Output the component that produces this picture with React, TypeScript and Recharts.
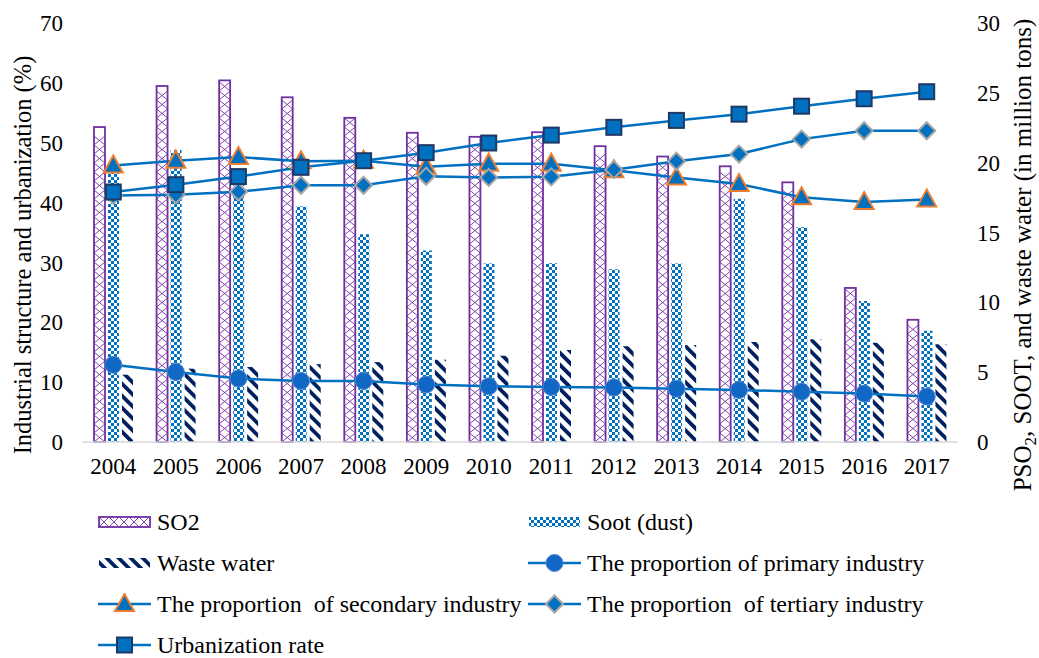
import React from 'react';
import {
  ComposedChart, Bar, Line, XAxis, YAxis,
} from 'recharts';

const years = ['2004', '2005', '2006', '2007', '2008', '2009', '2010', '2011', '2012', '2013', '2014', '2015', '2016', '2017'];

// pollutants, right axis (million tons)
const so2 = [22.55, 25.49, 25.89, 24.68, 23.21, 22.14, 21.85, 22.18, 21.18, 20.44, 19.74, 18.59, 11.03, 8.75];
const soot = [20.0, 20.9, 18.97, 16.86, 14.87, 13.71, 12.78, 12.79, 12.36, 12.78, 17.41, 15.38, 10.1, 7.96];
const wasteWater = [4.82, 5.25, 5.37, 5.57, 5.72, 5.89, 6.17, 6.59, 6.85, 6.95, 7.16, 7.35, 7.11, 7.0];

// industrial structure + urbanization, left axis (%)
const primary = [12.9, 11.7, 10.6, 10.2, 10.2, 9.6, 9.3, 9.2, 9.1, 8.9, 8.7, 8.4, 8.1, 7.6];
const secondary = [46.2, 47.0, 47.6, 46.9, 47.0, 46.0, 46.5, 46.5, 45.4, 44.2, 43.1, 40.9, 40.1, 40.5];
const tertiary = [41.2, 41.3, 41.8, 42.9, 42.9, 44.4, 44.2, 44.3, 45.5, 46.9, 48.1, 50.6, 52.0, 52.0];
const urbanization = [41.76, 42.99, 44.34, 45.89, 46.99, 48.34, 49.95, 51.27, 52.57, 53.73, 54.77, 56.1, 57.35, 58.52];

const leftTicks = [0, 10, 20, 30, 40, 50, 60, 70];
const rightTicks = [0, 5, 10, 15, 20, 25, 30];

const data = years.map((year, i) => ({
  year,
  so2: so2[i],
  soot: soot[i],
  waste: wasteWater[i],
  primary: primary[i],
  secondary: secondary[i],
  tertiary: tertiary[i],
  urban: urbanization[i],
}));

const FONT = 'Liberation Serif, Times New Roman, Tinos, DejaVu Serif, serif';
const BLUE = '#0070C0';
const PURPLE = '#7030A0';
const NAVY = '#002060';

// SO2 bars: white box, purple border, stacked X's inside
function So2Shape(props: any) {
  const { x, y, width, height } = props;
  if (!height || height <= 0) return <g />;
  const step = 9;
  let d = '';
  for (let yy = y + height; yy - step >= y - 0.01; yy -= step) {
    d += `M${x},${yy}L${x + width},${yy - step}M${x + width},${yy}L${x},${yy - step}`;
  }
  return (
    <g>
      <rect x={x} y={y} width={width} height={height} fill="#fff" />
      <path d={d} stroke={PURPLE} strokeWidth={0.9} fill="none" />
      <rect x={x} y={y} width={width} height={height} fill="none" stroke={PURPLE} strokeWidth={1.8} />
    </g>
  );
}

// markers
const dotCircle = (p: any) => (
  <circle key={`c${p.index}`} cx={p.cx} cy={p.cy} r={8.5} fill="#1068C4" stroke="#4F86D2" strokeWidth={1} />
);
const dotTriangle = (p: any) => (
  <polygon
    key={`t${p.index}`}
    points={`${p.cx},${p.cy - 10} ${p.cx + 9.5},${p.cy + 7} ${p.cx - 9.5},${p.cy + 7}`}
    fill={BLUE} stroke="#ED7D31" strokeWidth={2}
  />
);
const dotDiamond = (p: any) => (
  <polygon
    key={`d${p.index}`}
    points={`${p.cx},${p.cy - 8.5} ${p.cx + 8.5},${p.cy} ${p.cx},${p.cy + 8.5} ${p.cx - 8.5},${p.cy}`}
    fill={BLUE} stroke="#A5A5A5" strokeWidth={2}
  />
);
const dotSquare = (p: any) => (
  <rect key={`s${p.index}`} x={p.cx - 7.5} y={p.cy - 7.5} width={15} height={15} fill={BLUE} stroke="#1F3864" strokeWidth={2} />
);

const legendItems = [
  { name: 'SO2', kind: 'so2', col: 0, row: 0 },
  { name: 'Soot (dust)', kind: 'soot', col: 1, row: 0 },
  { name: 'Waste water', kind: 'waste', col: 0, row: 1 },
  { name: 'The proportion of primary industry', kind: 'circle', col: 1, row: 1 },
  { name: 'The proportion  of secondary industry', kind: 'triangle', col: 0, row: 2 },
  { name: 'The proportion  of tertiary industry', kind: 'diamond', col: 1, row: 2 },
  { name: 'Urbanization rate', kind: 'square', col: 0, row: 3 },
];

function LegendIcon({ kind }: { kind: string }) {
  const w = 53;
  const h = 22;
  const mid = h / 2;
  if (kind === 'so2') {
    let d = '';
    for (let x = 1; x + 10 <= w; x += 10) d += `M${x},${mid - 5}L${x + 10},${mid + 5}M${x + 10},${mid - 5}L${x},${mid + 5}`;
    return (
      <svg width={w} height={h}>
        <path d={d} stroke={PURPLE} strokeWidth={0.9} />
        <rect x={1} y={mid - 5} width={w - 2} height={10} fill="none" stroke={PURPLE} strokeWidth={1.8} />
      </svg>
    );
  }
  if (kind === 'soot' || kind === 'waste') {
    return (
      <svg width={w} height={h}>
        <rect x={1} y={mid - 5} width={w - 2} height={10} fill={kind === 'soot' ? 'url(#sootPat)' : 'url(#wastePat)'} />
      </svg>
    );
  }
  const marker = { cx: w / 2, cy: mid, index: 0 };
  return (
    <svg width={w} height={h}>
      <line x1={0} y1={mid} x2={w} y2={mid} stroke={BLUE} strokeWidth={2.5} />
      {kind === 'circle' && dotCircle(marker)}
      {kind === 'triangle' && dotTriangle(marker)}
      {kind === 'diamond' && dotDiamond(marker)}
      {kind === 'square' && dotSquare(marker)}
    </svg>
  );
}

function ChartLegend() {
  return (
    <>
      {legendItems.map((it) => (
        <div
          key={it.name}
          style={{
            position: 'absolute',
            left: it.col === 0 ? 98 : 528,
            top: 522 + it.row * 41 - 12,
            height: 24,
            display: 'flex',
            alignItems: 'center',
            whiteSpace: 'pre',
            fontSize: 24,
            lineHeight: '24px',
            color: '#000',
          }}
        >
          <LegendIcon kind={it.kind} />
          <span style={{ marginLeft: 6 }}>{it.name}</span>
        </div>
      ))}
    </>
  );
}

export default function App() {
  return (
    <div style={{ position: 'fixed', left: 0, top: 0, width: 1039, height: 658, overflow: 'hidden', fontFamily: FONT, background: '#fff' }}>
      <ComposedChart
        width={1039}
        height={658}
        data={data}
        margin={{ top: 23, right: 0, left: 0, bottom: 176 }}
        barSize={11}
        barGap={3}
      >
        <defs>
          <pattern id="sootPat" patternUnits="userSpaceOnUse" width="6" height="6">
            <rect width="6" height="6" fill="#fff" />
            <rect x="0" y="0" width="3" height="3" fill={BLUE} />
            <rect x="3" y="3" width="3" height="3" fill={BLUE} />
          </pattern>
          <pattern id="wastePat" patternUnits="userSpaceOnUse" width="8.5" height="8.5" patternTransform="rotate(-45)">
            <rect width="8.5" height="8.5" fill="#fff" />
            <rect x="0" y="0" width="3.8" height="8.5" fill={NAVY} />
          </pattern>
        </defs>

        <XAxis
          dataKey="year"
          height={40}
          interval={0}
          tickLine={false}
          tickSize={0}
          tickMargin={16}
          axisLine={{ stroke: '#D9D9D9', strokeWidth: 1.5 }}
          tick={{ fill: '#000', fontSize: 23, fontFamily: FONT }}
        />
        <YAxis
          yAxisId="left"
          orientation="left"
          width={82}
          domain={[0, 70]}
          ticks={leftTicks}
          axisLine={false}
          tickLine={false}
          tickSize={0}
          tickMargin={19}
          tick={{ fill: '#000', fontSize: 23, fontFamily: FONT }}
          label={() => (
            <text transform="translate(31,255) rotate(-90)" textAnchor="middle" fontSize={24.5} fontFamily={FONT} fill="#000">
              Industrial structure and urbanization (%)
            </text>
          )}
        />
        <YAxis
          yAxisId="right"
          orientation="right"
          width={81}
          domain={[0, 30]}
          ticks={rightTicks}
          axisLine={false}
          tickLine={false}
          tickSize={0}
          tickMargin={19}
          tick={{ fill: '#000', fontSize: 23, fontFamily: FONT }}
          label={() => (
            <text transform="translate(1031,255) rotate(-90)" textAnchor="middle" fontSize={25} fontFamily={FONT} fill="#000">
              PSO<tspan dy={5} fontSize={17}>2</tspan><tspan dy={-5}>, SOOT, and waste water (in million tons)</tspan>
            </text>
          )}
        />

        <Bar yAxisId="right" dataKey="so2" name="SO2" shape={<So2Shape />} isAnimationActive={false} />
        <Bar yAxisId="right" dataKey="soot" name="Soot (dust)" fill="url(#sootPat)" isAnimationActive={false} />
        <Bar yAxisId="right" dataKey="waste" name="Waste water" fill="url(#wastePat)" isAnimationActive={false} />

        <Line yAxisId="left" dataKey="primary" stroke={BLUE} strokeWidth={2.5} dot={dotCircle} activeDot={false} isAnimationActive={false} />
        <Line yAxisId="left" dataKey="secondary" stroke={BLUE} strokeWidth={2.5} dot={dotTriangle} activeDot={false} isAnimationActive={false} />
        <Line yAxisId="left" dataKey="tertiary" stroke={BLUE} strokeWidth={2.5} dot={dotDiamond} activeDot={false} isAnimationActive={false} />
        <Line yAxisId="left" dataKey="urban" stroke={BLUE} strokeWidth={2.5} dot={dotSquare} activeDot={false} isAnimationActive={false} />
      </ComposedChart>
      <ChartLegend />
    </div>
  );
}
